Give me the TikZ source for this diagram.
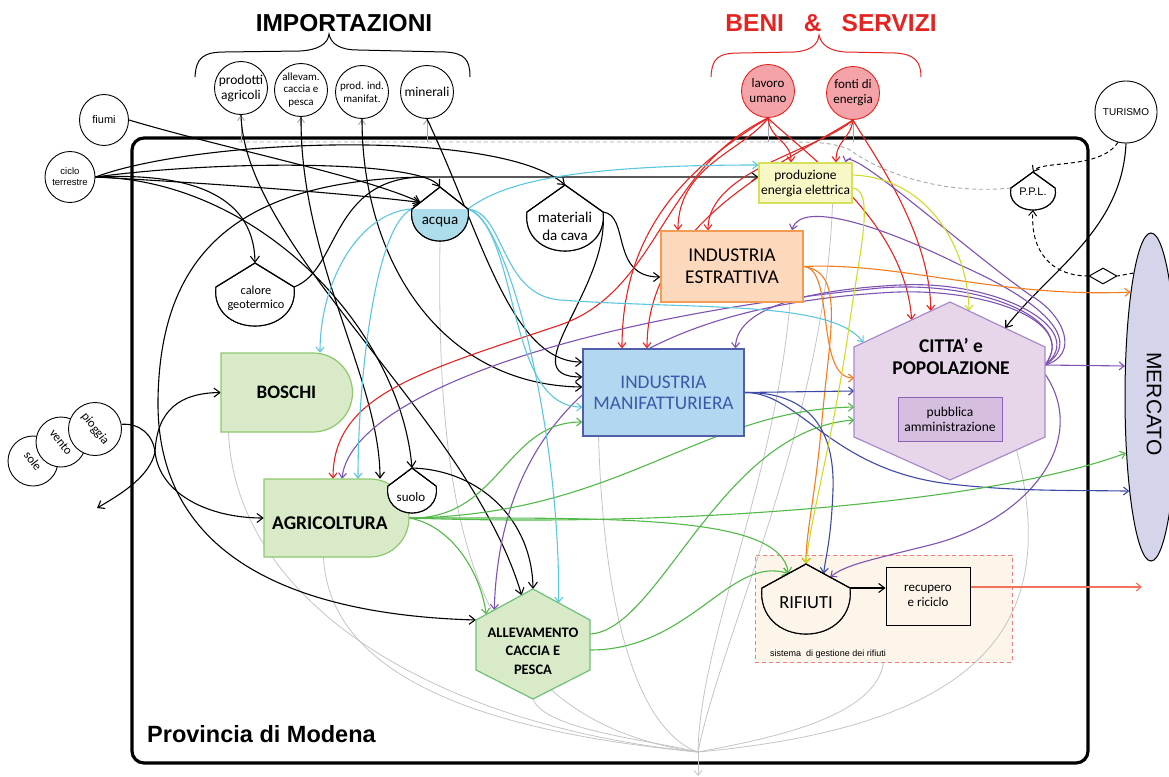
\documentclass[tikz,border=0pt]{standalone}
\usepackage{fontspec}
\setmainfont{Carlito}
\newfontfamily\arialf{Liberation Sans}
\usetikzlibrary{arrows.meta,shapes.geometric,calc}
\definecolor{redC}{HTML}{E52421}
\definecolor{pinkC}{HTML}{F4A3A8}
\definecolor{cyC}{HTML}{5CC6E0}
\definecolor{purC}{HTML}{7D52B3}
\definecolor{orC}{HTML}{F47C20}
\definecolor{ylC}{HTML}{CDDC28}
\definecolor{bluC}{HTML}{3C4AA5}
\definecolor{grnC}{HTML}{52B848}
\definecolor{sinkC}{HTML}{C4C4C4}
\definecolor{salmonC}{HTML}{F2735A}
\definecolor{acquaC}{HTML}{ADDCEB}
\definecolor{energiaF}{HTML}{F8F8C6}
\definecolor{energiaD}{HTML}{D7E05A}
\definecolor{estrF}{HTML}{FCD8BC}
\definecolor{estrD}{HTML}{F39B52}
\definecolor{manifF}{HTML}{B3D7F1}
\definecolor{manifD}{HTML}{4F5FA9}
\definecolor{manifT}{HTML}{3D58A8}
\definecolor{cittaF}{HTML}{E7D6EA}
\definecolor{cittaD}{HTML}{A88ACB}
\definecolor{pubF}{HTML}{D5BEE0}
\definecolor{pubD}{HTML}{8A62B6}
\definecolor{greenF}{HTML}{D8EAC8}
\definecolor{greenD}{HTML}{8DC86E}
\definecolor{allevD}{HTML}{6DC07A}
\definecolor{rifbg}{HTML}{FDF5EA}
\definecolor{rifD}{HTML}{F07C7C}
\definecolor{mercF}{HTML}{D4D4EA}
\pgfdeclarelayer{back}
\pgfdeclarelayer{wires}
\pgfsetlayers{back,wires,main}
\newcommand\fsz[2]{\fontsize{#1}{#2}\selectfont}
% storage tank: name, x, shoulder y, half width, roof, depth, roof fill, bowl fill
\newcommand\tank[8]{%
  \filldraw[tankline,fill=#7] (#2-#4,#3) -- (#2,#3-#5) -- (#2+#4,#3) .. controls (#2+#4+3,#3+0.6*#6) and (#2+0.6*#4,#3+#6) .. (#2,#3+#6) .. controls (#2-0.6*#4,#3+#6) and (#2-#4-3,#3+0.6*#6) .. cycle;
  \fill[#8] (#2-#4,#3) -- (#2+#4,#3) .. controls (#2+#4+3,#3+0.6*#6) and (#2+0.6*#4,#3+#6) .. (#2,#3+#6) .. controls (#2-0.6*#4,#3+#6) and (#2-#4-3,#3+0.6*#6) .. cycle;
  \draw[tankline] (#2-#4,#3) -- (#2,#3-#5) -- (#2+#4,#3) .. controls (#2+#4+3,#3+0.6*#6) and (#2+0.6*#4,#3+#6) .. (#2,#3+#6) .. controls (#2-0.6*#4,#3+#6) and (#2-#4-3,#3+0.6*#6) .. cycle;
  \coordinate (#1-t) at (#2,#3-#5);
  \coordinate (#1-l) at (#2-#4,#3);
  \coordinate (#1-r) at (#2+#4,#3);
  \coordinate (#1-b) at (#2,#3+#6);}

\begin{document}
\begin{tikzpicture}[x=1pt,y=-1pt,
    every node/.style={inner sep=0pt,align=center},
    imp/.style={circle,draw,line width=0.9pt,minimum size=53pt,fill=white},
    umano/.style={imp,fill=pinkC,draw=redC},
    ext/.style={ellipse,draw,line width=0.9pt,minimum width=49pt,minimum height=51pt,fill=white,font=\arialf\fsz{9.5}{11}},
    sun/.style={circle,draw,line width=0.9pt,fill=white,minimum size=50pt,font=\fsz{12.5}{13}},
    box/.style={draw,line width=1.2pt},
    tankline/.style={draw=black,line width=1.1pt},
    blk/.style={draw=black,line width=1.1pt,-{Straight Barb[length=6pt,width=9pt]}},
    colr/.style={draw=#1,line width=1.1pt,-{Straight Barb[length=5pt,width=8pt]}},
    sink/.style={draw=sinkC,line width=0.8pt},
    dsh/.style={draw=black,line width=1pt,dash pattern=on 4pt off 3pt,-{Straight Barb[length=5pt,width=8pt]}},
    gdash/.style={draw=gray!70,line width=0.9pt,dash pattern=on 4pt off 3pt},
    grayarr/.style={draw=gray!70,line width=0.9pt,-{Straight Barb[length=5pt,width=7pt]}}]
  \useasboundingbox (0,0) rectangle (1169,776);

  % titles and braces
  \node[font=\arialf\bfseries\fsz{24.5}{26}] (imp) at (344,23) {IMPORTAZIONI};
  \node[font=\arialf\bfseries\fsz{24.5}{26},text=redC] (beni) at (831,23) {BENI\hspace{20pt}\&\hspace{20pt}SERVIZI};
  \draw[line width=1pt] (195,77) .. controls (196,58) and (203,52) .. (225,52) -- (300,51) .. controls (318,50) and (328,44) .. (329,34) .. controls (331,44) and (340,50) .. (358,50) -- (445,52) .. controls (465,53) and (470,60) .. (470,77);
  \draw[redC,line width=1pt] (711,77) .. controls (712,58) and (718,53) .. (740,53) -- (794,52) .. controls (810,51) and (818,45) .. (819,35) .. controls (821,45) and (830,51) .. (845,52) -- (895,53) .. controls (915,54) and (921,62) .. (921,77);

  % inputs
  \node[imp,font=\fsz{13.5}{15}] (pagr) at (241,88) {prodotti\\agricoli};
  \node[imp,font=\fsz{11}{12.5}] (pall) at (301,90) {allevam.\\caccia e\\pesca};
  \node[imp,font=\fsz{11}{12.5}] (pind) at (362,92) {prod. ind.\\manifat.};
  \node[imp,font=\fsz{13.5}{15}] (pmin) at (427,92) {minerali};
  \node[umano,font=\fsz{13}{15}] (lavoro) at (768,91) {lavoro\\umano};
  \node[umano,font=\fsz{13}{15}] (fonti) at (853,93) {fonti di\\energia};
  \node[ext,font=\arialf\fsz{11}{12}] (fiumi) at (104,120) {fiumi};
  \node[ext] (ciclo) at (70,177) {ciclo\\terrestre};
  \node[imp,minimum size=62pt,font=\arialf\fsz{10}{11}] (turismo) at (1126,112) {TURISMO};
  \node[sun] (sole) at (33,461) {\rotatebox{-52}{sole}};
  \node[sun] (vento) at (61,442) {\rotatebox{-52}{vento}};
  \node[sun,minimum size=53pt] (pioggia) at (95,429) {\rotatebox{-52}{pioggia}};

  % storages
  \tank{acqua}{440}{209}{28}{22}{32}{white}{acquaC}
  \node[font=\fsz{15}{17}] (acqua) at (440,222) {acqua};
  \tank{mat}{565}{212}{38}{27}{39}{white}{white}
  \node[font=\fsz{15}{17.7}] (mat) at (565,226) {materiali\\da cava};
  \tank{cal}{255}{287}{39}{24}{39}{white}{white}
  \node[font=\fsz{12.3}{14.3}] (cal) at (256,298) {calore\\geotermico};
  \tank{ppl}{1033}{188}{22}{16}{22}{white}{white}
  \node[font=\arialf\fsz{11}{12}] (ppl) at (1033,192) {P.P.L.};

  % processes
  \node[box,fill=energiaF,draw=energiaD,minimum width=93pt,minimum height=40pt,font=\fsz{13.5}{15}] (energia) at (805.5,183) {produzione\\energia elettrica};
  \node[box,fill=estrF,draw=estrD,minimum width=142pt,minimum height=71pt,font=\fsz{19.5}{22}] (estr) at (732,266.5) {INDUSTRIA\\ESTRATTIVA};
  \node[box,fill=manifF,draw=manifD,text=manifT,minimum width=161pt,minimum height=87pt,font=\fsz{19.3}{21}] (manif) at (663.5,392.5) {INDUSTRIA\\MANIFATTURIERA};

  \coordinate (cT) at (950,302);
  \coordinate (cTR) at (1045,347);
  \coordinate (cBR) at (1045,437);
  \coordinate (cB) at (950,480);
  \coordinate (cBL) at (854,437);
  \coordinate (cTL) at (854,347);
  \filldraw[fill=cittaF,draw=cittaD,line width=1.2pt] (cT) -- (cTR) -- (cBR) -- (cB) -- (cBL) -- (cTL) -- cycle;
  \node[minimum width=191pt,minimum height=178pt] (citta) at (950,391) {};
  \node[font=\bfseries\fsz{19.5}{22}] (cittatxt) at (951,356) {CITTA' e\\POPOLAZIONE};
  \node[box,line width=1pt,fill=pubF,draw=pubD,minimum width=104pt,minimum height=44pt,font=\fsz{13.5}{15}] (pubblica) at (950,419) {pubblica\\amministrazione};

  \filldraw[fill=greenF,draw=greenD,line width=1.2pt] (221,353) -- (313,353) arc[start angle=-90,end angle=90,radius=39.5] -- (221,432) -- cycle;
  \node[minimum width=131pt,minimum height=79pt,font=\bfseries\fsz{19}{21}] (boschi) at (286.5,392.5) {BOSCHI};
  \filldraw[fill=greenF,draw=greenD,line width=1.2pt] (264,479) -- (370,479) arc[start angle=-90,end angle=90,radius=39] -- (264,557) -- cycle;
  \node[minimum width=145pt,minimum height=78pt] (agri) at (336.5,518) {};
  \node[font=\bfseries\fsz{19.5}{21}] (agritxt) at (330,523) {AGRICOLTURA};
  \tank{suolo}{412}{486}{24}{18}{27}{white}{white}
  \node[font=\fsz{13}{14}] (suolo) at (411,497) {suolo};

  \coordinate (alT) at (533,589);
  \coordinate (alTR) at (590,620);
  \coordinate (alBR) at (590,670);
  \coordinate (alB) at (533,699);
  \coordinate (alBL) at (476,670);
  \coordinate (alTL) at (476,620);
  \filldraw[fill=greenF,draw=allevD,line width=1.2pt] (alT) -- (alTR) -- (alBR) -- (alB) -- (alBL) -- (alTL) -- cycle;
  \node[minimum width=114pt,minimum height=110pt] (allev) at (533,644) {};
  \node[font=\bfseries\fsz{14.5}{18.5}] (allevtxt) at (533,651) {ALLEVAMENTO\\CACCIA E\\PESCA};

  % waste
  \begin{pgfonlayer}{back}
    \node[draw,line width=3.2pt,rounded corners=12pt,minimum width=956pt,minimum height=625pt] (provincia) at (610,450.5) {};
    \node[draw=rifD,dash pattern=on 4pt off 3pt,line width=1pt,fill=rifbg,minimum width=257pt,minimum height=107pt] (rifsys) at (883.5,608.5) {};
  \end{pgfonlayer}
  \node[font=\arialf\fsz{9}{10}] (rifsystxt) at (828,654) {sistema\ \ di gestione dei rifiuti};
  \tank{rif}{806}{588}{44}{24}{46}{rifbg}{rifbg}
  \node[font=\fsz{18.5}{20}] (rif) at (806,603) {RIFIUTI};
  \node[box,line width=1pt,fill=rifbg,minimum width=84pt,minimum height=58pt,font=\fsz{13}{15}] (recup) at (928,596) {recupero\\e riciclo};
  \coordinate (riciclato) at (1142,587);

  % market
  \node[ellipse,draw,line width=1pt,fill=mercF,minimum width=52pt,minimum height=328pt] (merc) at (1151,397) {};
  \node[rotate=-90,font=\arialf\fsz{21}{22}] (merctxt) at (1154,404) {MERCATO};
  \node[diamond,draw,fill=white,line width=1pt,minimum width=28pt,minimum height=16pt] (dia) at (1103,276) {};

  \node[font=\arialf\bfseries\fsz{23.5}{25},anchor=west] (provtxt) at (147,734) {Provincia di Modena};

  \coordinate (sinkpt) at (698,752);
  \coordinate (sinkout) at (698,776);
  \coordinate (pay) at (236,142);
  \coordinate (ramo) at (425,177);
  \coordinate (sj) at (155,452);
  \coordinate (dispersione) at (97,508);
  \coordinate (acqin) at ($(acqua-l)!0.3!(acqua-t)$);
  \coordinate (cpa) at ($(cTR)!0.2!(cBR)$);

  \begin{pgfonlayer}{wires}
    % heat sink
    \draw[sink] ([xshift=-58pt]boschi.south) .. controls (235,600) and (430,725) .. (sinkpt);
    \draw[sink] ([xshift=-13pt]agri.south) .. controls (330,690) and (520,735) .. (sinkpt);
    \draw[sink] (acqua-b) .. controls (436,520) and (470,720) .. (sinkpt);
    \draw[sink] (allev.south) .. controls (545,730) and (650,740) .. (sinkpt);
    \draw[sink] ([xshift=-65pt]manif.south) .. controls (605,650) and (650,735) .. (sinkpt);
    \draw[sink] ([xshift=58pt]estr.south) .. controls (775,480) and (700,640) .. (sinkpt);
    \draw[sink] ([xshift=27pt]energia.south) .. controls (825,420) and (720,640) .. (sinkpt);
    \draw[sink] ($(cBR)!0.3!(cB)$) .. controls (1060,620) and (990,725) .. (sinkpt);
    \draw[sink] (rifsys.south) .. controls (875,720) and (760,740) .. (sinkpt);
    \draw[sink,-{Straight Barb[length=5pt,width=8pt]}] (sinkpt) -- (sinkout);

    % payments
    \draw[gdash] (ppl-l) .. controls (940,195) and (880,172) .. (850,150) .. controls (835,143) and (820,142) .. (790,142) -- (pay);
    \foreach \c in {pagr,pall,pind,pmin,lavoro,fonti} \draw[grayarr] (\c.south |- pay) -- (\c.south);
    \draw[dsh] (turismo.255) .. controls (1100,170) and (1040,160) .. (ppl-t);
    \draw[dsh,-] (merc.98) -- (dia.east);
    \draw[dsh] (dia.west) .. controls (1050,276) and (1030,250) .. (ppl-b);

    % black flows
    \draw[blk] (fiumi.east) .. controls (230,150) and (360,175) .. (acqin);
    \draw[blk] (ciclo.east) .. controls (240,185) and (360,195) .. (acqin);
    \draw[blk] (ciclo.east) .. controls (220,160) and (420,160) .. (acqua-t);
    \draw[blk] (ciclo.east) .. controls (200,138) and (500,128) .. (mat-t);
    \draw[blk] (ciclo.east) .. controls (200,172) and (254,200) .. (cal-t);
    \draw[blk] (ciclo.east) .. controls (260,180) and (400,330) .. (suolo-t);
    \draw[blk] (pagr.south) .. controls (245,250) and (470,420) .. ($(alT)!0.2!(alTL)$);
    \draw[blk] (suolo-t) .. controls (480,470) and (532,520) .. (alT);
    \draw[blk] (pall.south) .. controls (300,260) and (380,380) .. ([xshift=43.5pt]agri.north);
    \draw[blk] (pind.south) .. controls (362,260) and (440,385) .. ([yshift=5.5pt]manif.west);
    \draw[blk] (pmin.south) .. controls (480,230) and (510,362) .. ([yshift=30.5pt]manif.west);
    \draw[blk] (mat-r) .. controls (610,290) and (510,377) .. ([yshift=15.5pt]manif.west);
    \draw[blk] (mat-r) .. controls (630,215) and (610,277) .. ([yshift=-10.5pt]estr.west);
    \draw[blk] (cal-r) .. controls (340,270) and (330,177) .. (ramo) -- ([yshift=6pt]energia.west);
    \draw[blk] (ramo) .. controls (230,180) and (160,260) .. (158,400) .. controls (156,560) and (300,615) .. (alTL);
    \draw[black,line width=1.1pt] (pioggia.10) .. controls (140,423) and (153,435) .. (sj);
    \draw[blk] (sj) .. controls (157,410) and (180,393) .. (boschi.west);
    \draw[blk] (sj) .. controls (160,495) and (210,518) .. (agri.west);
    \draw[blk] (sj) .. controls (150,475) and (125,492) .. (dispersione);
    \draw[blk] (turismo.south) .. controls (1122,230) and (1050,270) .. ($(cT)!0.58!(cTR)$);
    \draw[blk] (rif-r) -- (rif-r -| recup.west);
    \draw[colr=salmonC] (recup.east |- riciclato) -- (riciclato);

    % human work and energy sources
    \draw[colr=redC] (lavoro.south) .. controls (770,140) and (791,140) .. ([xshift=-14.5pt]energia.north);
    \draw[colr=redC] (fonti.south) .. controls (850,140) and (836,140) .. ([xshift=30.5pt]energia.north);
    \draw[colr=redC] (lavoro.south) .. controls (745,150) and (678,165) .. ([xshift=-54pt]estr.north);
    \draw[colr=redC] (fonti.south) .. controls (820,150) and (708,170) .. ([xshift=-24pt]estr.north);
    \draw[colr=redC] (lavoro.south) .. controls (700,160) and (622,220) .. ([xshift=-41.5pt]manif.north);
    \draw[colr=redC] (fonti.south) .. controls (790,160) and (647,220) .. ([xshift=-16.5pt]manif.north);
    \draw[colr=redC] (lavoro.south) .. controls (800,150) and (905,220) .. ($(cTL)!0.6!(cT)$);
    \draw[colr=redC] (fonti.south) .. controls (870,150) and (930,230) .. ($(cTL)!0.8!(cT)$);
    \draw[colr=redC] (lavoro.south) .. controls (660,170) and (660,290) .. (560,325) .. controls (420,372) and (333,395) .. ([xshift=-3.5pt]agri.north);

    % public services
    \draw[colr=purC] (cpa) -- (merc.130);
    \draw[colr=purC] ($(cTR)!0.3!(cBR)$) .. controls (1090,440) and (1030,520) .. (930,545) .. controls (870,560) and (845,565) .. ($(rif-t)!0.55!(rif-r)$);
    \draw[colr=purC] (cpa) .. controls (1080,355) and (1065,315) .. (1030,295) .. controls (960,245) and (850,145) .. ([xshift=40pt]energia.north);
    \draw[colr=purC] (cpa) .. controls (1085,340) and (1040,300) .. (960,265) .. controls (880,225) and (800,200) .. ([xshift=60pt]estr.north);
    \draw[colr=purC] (cpa) .. controls (1090,330) and (1000,280) .. (900,285) .. controls (800,290) and (736,310) .. ([xshift=72pt]manif.north);
    \draw[colr=purC] (cpa) .. controls (1080,320) and (980,280) .. (880,288) .. controls (560,320) and (350,400) .. ([xshift=5.5pt]agri.north);
    \draw[colr=purC] (cpa) .. controls (1080,320) and (980,285) .. (880,293) .. controls (620,310) and (500,420) .. ($(alTL)!0.32!(alT)$);

    % mining products
    \draw[colr=orC] (estr.east) .. controls (900,262) and (1000,298) .. (merc.101);
    \draw[colr=orC] (estr.east) .. controls (835,268) and (815,378) .. ([yshift=13pt]citta.west);
    \draw[colr=orC] (estr.east) .. controls (845,272) and (830,330) .. (822,420) .. controls (815,500) and (806,530) .. (rif-t);

    % manufactured goods
    \draw[colr=bluC] (manif.east) -- (citta.west);
    \draw[colr=bluC] (manif.east) .. controls (800,392) and (830,470) .. (950,484) .. controls (1020,492) and (1080,490) .. (merc.257);
    \draw[colr=bluC] (manif.east) .. controls (810,392) and (835,430) .. (833,490) .. controls (831,540) and (826,555) .. ($(rif-t)!0.4!(rif-r)$);

    % agricultural and animal products
    \draw[colr=grnC] (agri.east) .. controls (500,520) and (505,422) .. ([yshift=-29.5pt]manif.west);
    \draw[colr=grnC] (agri.east) .. controls (620,515) and (700,410) .. ([yshift=-16pt]citta.west);
    \draw[colr=grnC] (agri.east) .. controls (700,528) and (1000,500) .. (merc.246);
    \draw[colr=grnC] (agri.east) .. controls (620,518) and (780,515) .. ($(rif-t)!0.4!(rif-l)$);
    \draw[colr=grnC] (agri.east) .. controls (450,525) and (480,570) .. ($(alTL)!0.18!(alT)$);
    \draw[colr=grnC] ([yshift=10pt]allev.east) .. controls (660,630) and (720,430) .. ([yshift=-29pt]citta.west);
    \draw[colr=grnC] ([yshift=-6pt]allev.east) .. controls (690,650) and (730,555) .. ($(rif-t)!0.4!(rif-l)$);

    % water
    \draw[colr=cyC] (acqua-l) .. controls (360,212) and (320,280) .. ([xshift=33.5pt]boschi.north);
    \draw[colr=cyC] (acqua-l) .. controls (375,225) and (358,380) .. ([xshift=21.5pt]agri.north);
    \draw[colr=cyC] (acqua-r) .. controls (505,215) and (560,420) .. ($(alT)!0.45!(alTR)$);
    \draw[colr=cyC] (acqua-r) .. controls (520,230) and (505,407) .. ([yshift=-14.5pt]manif.west);
    \draw[colr=cyC] (acqua-r) .. controls (505,212) and (500,295) .. (560,300) .. controls (700,310) and (830,300) .. ($(cTL)!0.1!(cT)$);
    \draw[colr=cyC] (acqua-r) .. controls (500,185) and (560,165) .. ([yshift=18pt]energia.west);

    % electricity
    \draw[colr=ylC] ([yshift=8pt]energia.east) .. controls (930,178) and (968,250) .. ($(cT)!0.2!(cTR)$);
    \draw[colr=ylC] ([yshift=-5pt]energia.east) .. controls (875,190) and (860,250) .. (850,320) .. controls (835,430) and (810,520) .. (rif-t);
  \end{pgfonlayer}
\end{tikzpicture}
\end{document}
